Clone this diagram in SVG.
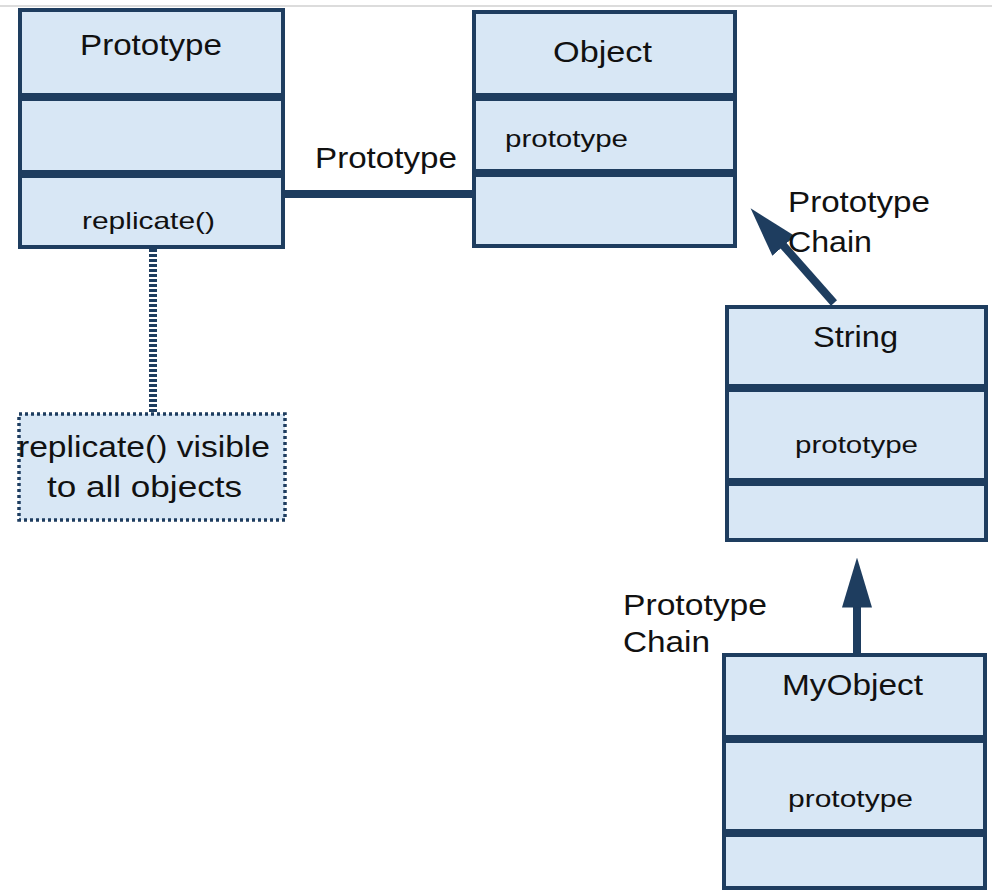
<svg xmlns="http://www.w3.org/2000/svg" width="992" height="892" viewBox="0 0 992 892">
  <style>
    .box { fill: #d8e7f5; stroke: #1e3d5f; stroke-width: 4; }
    .div { stroke: #1e3d5f; stroke-width: 8; }
    .t { font-family: "Liberation Sans", Arial, sans-serif; fill: #111; }
    .title { font-size: 29px; }
    .attr { font-size: 24px; }
    .lbl { font-size: 29px; }
    .conn { stroke: #1e3d5f; stroke-width: 8; fill: none; }
  </style>
  <defs>
    <marker id="head" viewBox="0 0 10 6" refX="0.5" refY="3" markerWidth="6.25" markerHeight="3.75" markerUnits="strokeWidth" orient="auto">
      <path d="M0,0 L10,3 L0,6 Z" fill="#1e3d5f"/>
    </marker>
  </defs>

  <rect width="992" height="892" fill="#fff"/>
  <line x1="0" y1="6" x2="992" y2="6" stroke="#d0d0d0" stroke-width="1.5"/>

  <g id="connectors">
    <line class="conn" x1="283" y1="194" x2="474" y2="194"/>
    <line class="conn" x1="153" y1="249" x2="153" y2="412" stroke-dasharray="3 2"/>
    <line class="conn" x1="834" y1="303" x2="782" y2="244" marker-end="url(#head)"/>
    <line class="conn" x1="857" y1="653" x2="857" y2="605" marker-end="url(#head)"/>
    <text class="t lbl" x="315" y="168" textLength="142" lengthAdjust="spacingAndGlyphs">Prototype</text>
    <text class="t lbl" x="788" y="212" textLength="142" lengthAdjust="spacingAndGlyphs">Prototype</text>
    <text class="t lbl" x="788" y="252" textLength="84" lengthAdjust="spacingAndGlyphs">Chain</text>
    <text class="t lbl" x="623" y="615" textLength="144" lengthAdjust="spacingAndGlyphs">Prototype</text>
    <text class="t lbl" x="623" y="652" textLength="87" lengthAdjust="spacingAndGlyphs">Chain</text>
  </g>

  <g id="prototype">
    <rect class="box" x="20" y="10" width="263" height="237"/>
    <line class="div" x1="20" y1="97" x2="283" y2="97"/>
    <line class="div" x1="20" y1="174" x2="283" y2="174"/>
    <text class="t title" x="80" y="55" textLength="142" lengthAdjust="spacingAndGlyphs">Prototype</text>
    <text class="t attr" x="82" y="229" textLength="133" lengthAdjust="spacingAndGlyphs">replicate()</text>
  </g>

  <g id="object">
    <rect class="box" x="474" y="12" width="261" height="234"/>
    <line class="div" x1="474" y1="97" x2="735" y2="97"/>
    <line class="div" x1="474" y1="173" x2="735" y2="173"/>
    <text class="t title" x="553" y="62" textLength="99" lengthAdjust="spacingAndGlyphs">Object</text>
    <text class="t attr" x="505" y="147" textLength="123" lengthAdjust="spacingAndGlyphs">prototype</text>
  </g>

  <g id="note">
    <rect x="19" y="414" width="266" height="106" fill="#d8e7f5" stroke="#1e3d5f" stroke-width="3.5" stroke-dasharray="3 3"/>
    <text class="t lbl" x="18" y="457" textLength="252" lengthAdjust="spacingAndGlyphs">replicate() visible</text>
    <text class="t lbl" x="47" y="497" textLength="195" lengthAdjust="spacingAndGlyphs">to all objects</text>
  </g>

  <g id="string">
    <rect class="box" x="727" y="307" width="259" height="233"/>
    <line class="div" x1="727" y1="388" x2="986" y2="388"/>
    <line class="div" x1="727" y1="482" x2="986" y2="482"/>
    <text class="t title" x="813" y="347" textLength="85" lengthAdjust="spacingAndGlyphs">String</text>
    <text class="t attr" x="795" y="453" textLength="123" lengthAdjust="spacingAndGlyphs">prototype</text>
  </g>

  <g id="myobject">
    <rect class="box" x="724" y="655" width="261" height="233"/>
    <line class="div" x1="724" y1="739" x2="985" y2="739"/>
    <line class="div" x1="724" y1="833" x2="985" y2="833"/>
    <text class="t title" x="782" y="695" textLength="141" lengthAdjust="spacingAndGlyphs">MyObject</text>
    <text class="t attr" x="788" y="807" textLength="125" lengthAdjust="spacingAndGlyphs">prototype</text>
  </g>
</svg>
